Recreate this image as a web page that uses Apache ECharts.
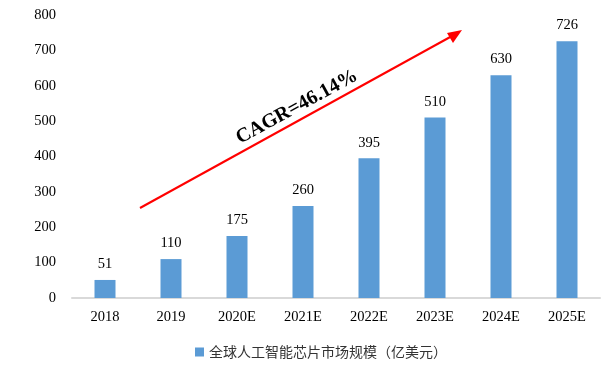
<!DOCTYPE html>
<html><head><meta charset="utf-8">
<script src="https://cdn.jsdelivr.net/npm/echarts@6/dist/echarts.min.js"></script>
<style>html,body{margin:0;padding:0;background:#fff}#c{width:616px;height:367px}</style>
</head><body><div id="c"></div>
<script>
const categories = ['2018','2019','2020E','2021E','2022E','2023E','2024E','2025E'];
const marketSize = [51,110,175,260,395,510,630,726];
const seriesName = '全球人工智能芯片市场规模（亿美元）';
const cagrText = 'CAGR=46.14%';

const chart = echarts.init(document.getElementById('c'));
chart.setOption({
  animation:false,
  backgroundColor:'#fff',
  grid:{left:72,right:16,top:15,bottom:69},
  legend:{
    data:[seriesName], top:340, left:190, itemWidth:9, itemHeight:9, itemGap:4,
    icon:'rect',
    textStyle:{fontFamily:'Noto Sans CJK SC', fontSize:14, color:'#333'}
  },
  xAxis:{
    type:'category', data:categories,
    axisLine:{lineStyle:{color:'#d9d9d9', width:2}},
    axisTick:{show:false},
    axisLabel:{fontFamily:'Liberation Serif', fontSize:14.5, color:'#000', margin:12}
  },
  yAxis:{
    type:'value', min:0, max:800, interval:100,
    splitLine:{show:false}, axisLine:{show:false}, axisTick:{show:false},
    axisLabel:{fontFamily:'Liberation Serif', fontSize:14.5, color:'#000', margin:16}
  },
  series:[{
    name:seriesName, type:'bar', data:marketSize, barWidth:21,
    itemStyle:{color:'#5B9BD5'},
    label:{show:true, position:'top', distance:8, fontFamily:'Liberation Serif', fontSize:14.5, color:'#000'}
  }],
  graphic:[
    {type:'line', shape:{x1:140,y1:208,x2:452,y2:36}, style:{stroke:'#ff0000', lineWidth:2}},
    {type:'polygon', shape:{points:[[462,30],[447,33],[453,43]]}, style:{fill:'#ff0000'}},
    {type:'text', x:297, y:107, rotation:0.5,
     style:{text:cagrText, fontFamily:'Liberation Serif', fontSize:20, fontWeight:'bold', fill:'#000', align:'center', verticalAlign:'middle'}}
  ]
});
</script></body></html>
